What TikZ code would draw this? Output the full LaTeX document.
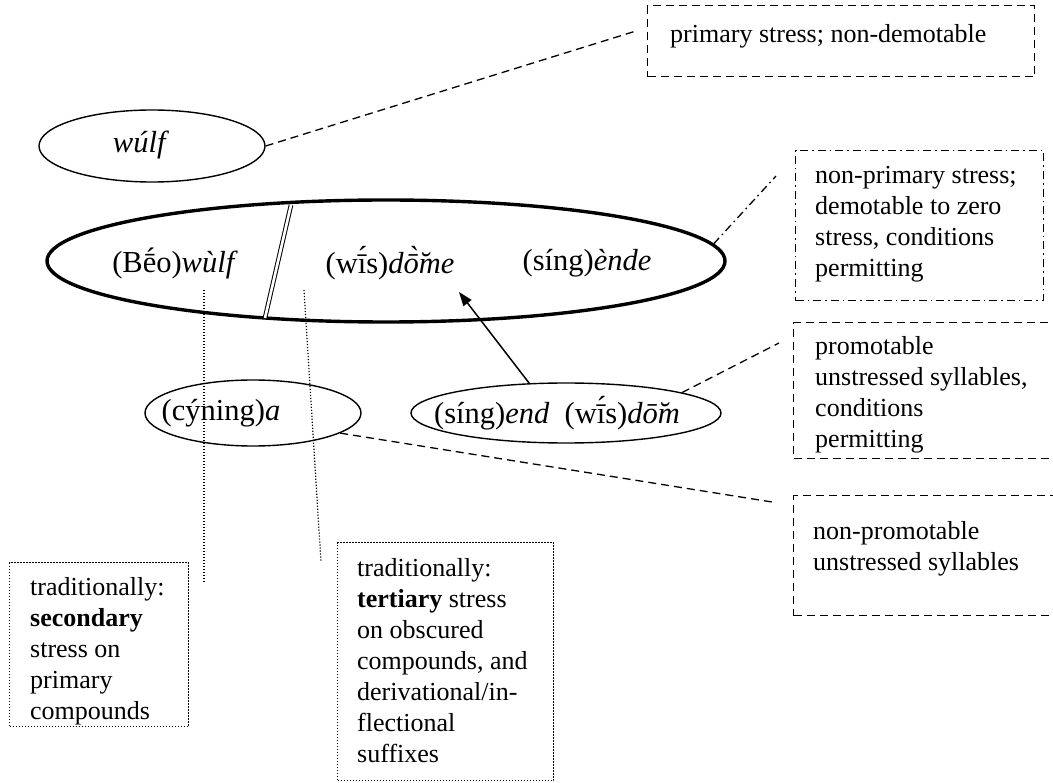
\documentclass[tikz,border=0pt]{standalone}
\usepackage{fontspec}
\setmainfont{Liberation Serif}
\usetikzlibrary{shapes.geometric,arrows.meta}
\begin{document}
\begin{tikzpicture}[x=1pt,y=-1pt,
  ell/.style={draw, ellipse, line width=1.4pt, inner sep=0pt},
  bigell/.style={draw, ellipse, line width=3.4pt, inner sep=0pt},
  etext/.style={font=\fontsize{30.5}{36}\selectfont, inner sep=0pt},
  btext/.style={font=\fontsize{26}{31}\selectfont, inner sep=0pt, align=left, anchor=north west},
  boxbase/.style={draw, rectangle, inner sep=0pt, anchor=north west, line width=1.3pt},
  dashbox/.style={boxbase, dash pattern=on 8pt off 5pt},
  dashdotbox/.style={boxbase, dash pattern=on 8pt off 4pt on 1.6pt off 4pt},
  dotbox/.style={boxbase, line width=1.2pt, dash pattern=on 1.2pt off 1.8pt},
  dashline/.style={line width=1.3pt, dash pattern=on 8pt off 5pt},
  dashdotline/.style={line width=1.3pt, dash pattern=on 8pt off 4pt on 1.6pt off 4pt},
  dotline/.style={line width=1.2pt, dash pattern=on 1.2pt off 1.8pt},
]
\useasboundingbox (0,0) rectangle (1053,783);
\clip (0,0) rectangle (1053,783);

% boxes
\node[dashbox, minimum width=387pt, minimum height=71pt] (b1) at (647,5) {};
\node[btext] (t1) at (670,24) {primary stress; non-demotable};

\node[dashdotbox, minimum width=248pt, minimum height=150pt] (b2) at (795,150) {};
\node[btext] (t2) at (815,166) {non-primary stress;\\demotable to zero\\stress, conditions\\permitting};

\node[dashbox, minimum width=280pt, minimum height=136pt] (b3) at (793,322) {};
\node[btext] (t3) at (815,336) {promotable\\unstressed syllables,\\conditions\\permitting};

\node[dashbox, minimum width=280pt, minimum height=120pt] (b4) at (793,495) {};
\node[btext] (t4) at (813,521) {non-promotable\\unstressed syllables};

\node[dotbox, minimum width=179pt, minimum height=164pt] (b5) at (9,562) {};
\node[btext] (t5) at (30,577) {traditionally:\\\textbf{secondary}\\stress on\\primary\\compounds};

\node[dotbox, minimum width=216pt, minimum height=238pt] (b6) at (337,542) {};
\node[btext] (t6) at (357,558) {traditionally:\\\textbf{tertiary} stress\\on obscured\\compounds, and\\derivational/in-\\flectional\\suffixes};

% ellipses
\node[ell, minimum width=226pt, minimum height=72pt] (wulfE) at (152,146) {};
\node[etext] (wulfT) at (141,145) {\textit{wúlf}};

\node[bigell, minimum width=678pt, minimum height=122pt] (bigE) at (386,261) {};
\node[etext] (bw) at (175,263) {(Bḗo)\textit{wùlf}};
\node[etext] (wd) at (390,263) {(wī́s)\textit{dō̆̀me}};
\node[etext] (se) at (587,263) {(síng)\textit{ènde}};

\node[ell, minimum width=216pt, minimum height=66pt] (llE) at (253,413) {};
\node[etext] (cy) at (221,413) {(cýning)\textit{a}};

\node[ell, minimum width=310pt, minimum height=60pt] (lrE) at (566,413) {};
\node[etext] (sw) at (557,413) {(síng)\textit{end}\ \ (wī́s)\textit{dō̆m}};

% coordinates
\coordinate (dA) at (291,205);
\coordinate (dB) at (265,318);
\coordinate (e1) at (636,31);
\coordinate (e2) at (776,176);
\coordinate (e3) at (779,343);
\coordinate (e4) at (772,502);
\coordinate (tip) at (459,292);
\coordinate (p1) at (204,290);
\coordinate (q1) at (204,583);
\coordinate (p2) at (304,290);
\coordinate (q2) at (321,562);

% connectors
\draw[double, line width=1pt, double distance=2.6pt] (dA) -- (dB);
\draw[dashline] (wulfE.east) -- (e1);
\draw[dashdotline] (bigE.3) -- (e2);
\draw[dashline] (lrE.10) -- (e3);
\draw[dashline] (llE.-13) -- (e4);
\draw[line width=1.5pt, -{Triangle[length=14pt,width=10pt]}] (lrE.141) -- (tip);
\draw[dotline] (p1) -- (q1);
\draw[dotline] (p2) -- (q2);
\end{tikzpicture}
\end{document}
